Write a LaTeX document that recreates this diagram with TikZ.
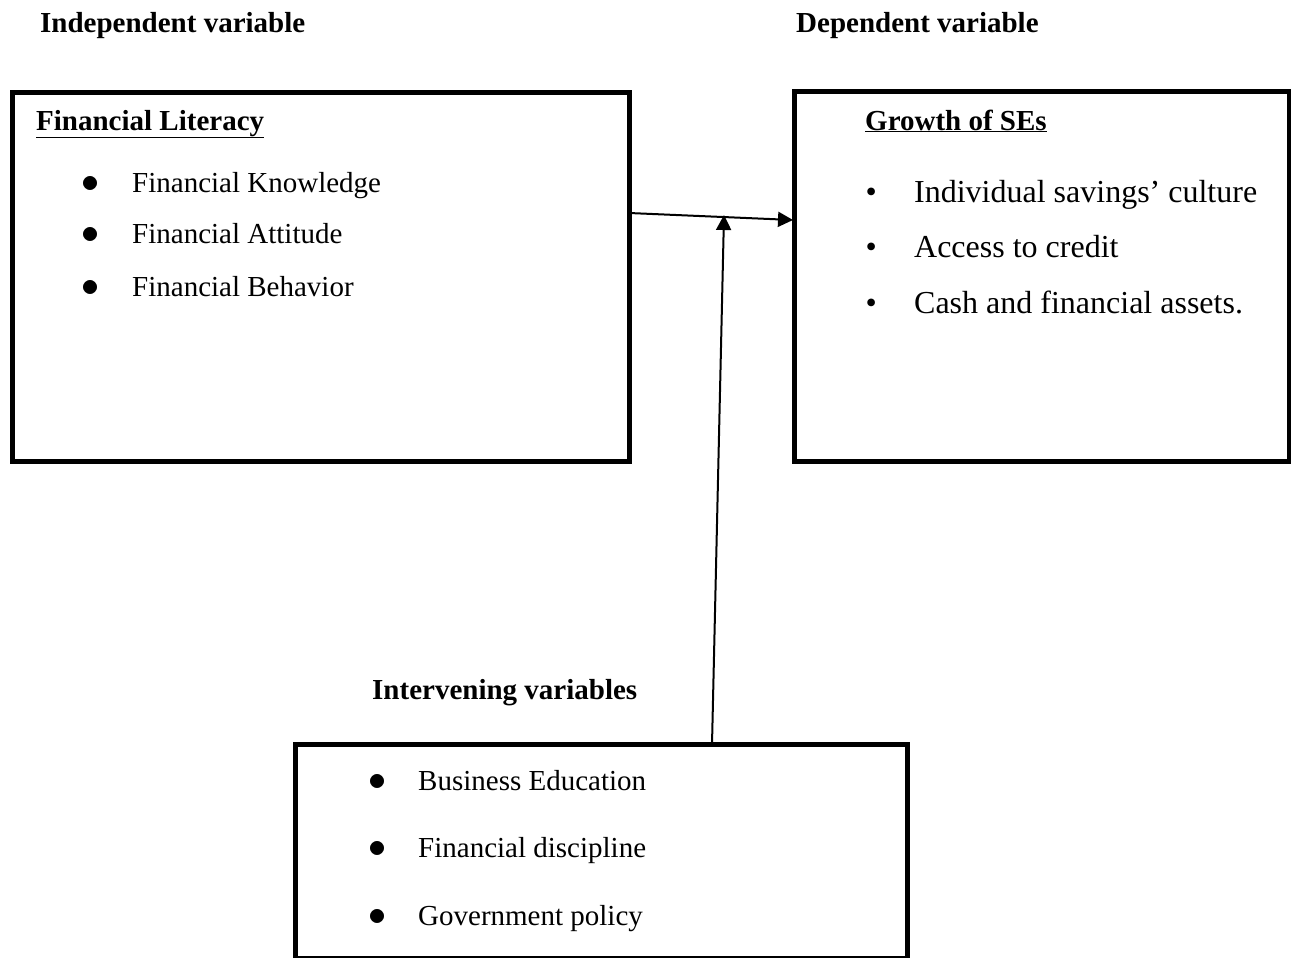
\documentclass[tikz,border=0pt]{standalone}
\usepackage{fontspec}
\setmainfont{Liberation Serif}
\usetikzlibrary{arrows.meta}
\newcommand{\bul}[2]{\makebox[0pt][r]{\makebox[#1]{#2}}}
\newcommand{\bigbul}{\scalebox{1.45}{$\bullet$}}
\begin{document}
\begin{tikzpicture}[x=1pt,y=-1pt,
  box/.style={draw,line width=5pt,inner sep=0pt,outer sep=0pt,anchor=north west},
  head/.style={font=\fontsize{29}{34}\selectfont\bfseries,anchor=base west,inner sep=0pt},
  item/.style={font=\fontsize{29}{34}\selectfont,anchor=base west,inner sep=0pt},
  itemb/.style={font=\fontsize{32}{38}\selectfont,anchor=base west,inner sep=0pt},
  conn/.style={line width=2pt,-{Triangle[length=15pt,width=15pt]}}]
\useasboundingbox (0,0) rectangle (1291,958);
% boxes
\node[box,minimum width=616.5pt,minimum height=369pt] (lit) at (12.5,92.5) {};
\node[box,minimum width=494.5pt,minimum height=369.5pt] (gro) at (794.5,92) {};
\node[box,minimum width=612pt,minimum height=214pt] (int) at (295,744.5) {};
% headings
\node[head] (hind) at (40,33) {Independent variable};
\node[head] (hdep) at (796,33) {Dependent variable};
\node[head] (hint) at (372,699) {Intervening variables};
\node[head] (tlit) at (36,130) {\underline{Financial Literacy}};
\node[head] (tgro) at (865,130) {\underline{Growth of SEs}};
% left items
\node[item] (l1) at (132,192) {\bul{84pt}{\bigbul}Financial Knowledge};
\node[item] (l2) at (132,243) {\bul{84pt}{\bigbul}Financial Attitude};
\node[item] (l3) at (132,296) {\bul{84pt}{\bigbul}Financial Behavior};
% right items
\node[itemb] (r1) at (914,202) {\bul{86pt}{\textbullet}Individual savings’ culture};
\node[itemb] (r2) at (914,257) {\bul{86pt}{\textbullet}Access to credit};
\node[itemb] (r3) at (914,313) {\bul{86pt}{\textbullet}Cash and financial assets.};
% bottom items
\node[item] (b1) at (418,790) {\bul{82pt}{\bigbul}Business Education};
\node[item] (b2) at (418,857) {\bul{82pt}{\bigbul}Financial discipline};
\node[item] (b3) at (418,925) {\bul{82pt}{\bigbul}Government policy};
% connectors
\coordinate (hs) at (629,213);
\coordinate (he) at (793,220);
\coordinate (vm) at (724,215);
\coordinate (vs) at (712,744.5);
\draw[conn] (hs) -- (he);
\draw[conn] (vs) -- (vm);
\end{tikzpicture}
\end{document}
